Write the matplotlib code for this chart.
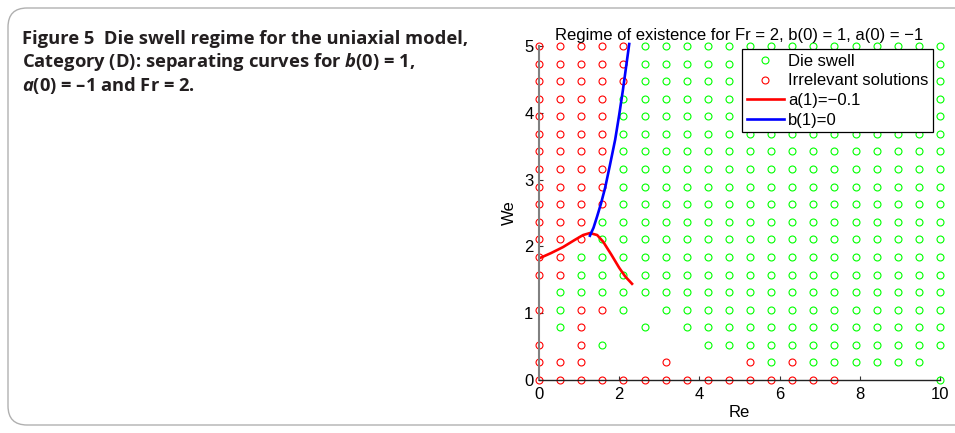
"""Die swell regime map for the uniaxial model (Fr = 2, b(0) = 1, a(0) = -1)."""

import matplotlib

matplotlib.use("Agg")
import matplotlib.pyplot as plt
from matplotlib.patches import FancyBboxPatch

# grid of Reynolds / Weissenberg numbers that were sampled
RE_GRID = [0.0, 0.526, 1.053, 1.579, 2.105, 2.632, 3.158, 3.684, 4.211, 4.737,
           5.263, 5.789, 6.316, 6.842, 7.368, 7.895, 8.421, 8.947, 9.474, 10.0]
WE_GRID = [5.0, 4.737, 4.474, 4.211, 3.947, 3.684, 3.421, 3.158, 2.895, 2.632,
           2.368, 2.105, 1.842, 1.579, 1.316, 1.053, 0.789, 0.526, 0.263, 0.0]

# one row per We value (top row = We 5): g = die swell, r = irrelevant, . = none
REGIME = [
    "rrrrrggggggggggggggg",
    "rrrrrggggggggggggggg",
    "rrrrrggggggggggggggg",
    "rrrrgggggggggggggggg",
    "rrrrgggggggggggggggg",
    "rrrrgggggggggggggggg",
    "rrrrgggggggggggggggg",
    "rrrrgggggggggggggggg",
    "rrrrgggggggggggggggg",
    "rrrrgggggggggggggggg",
    "rrrggggggggggggggggg",
    "rrrggggggggggggggggg",
    "rrgggggggggggggggggg",
    "rrgggggggggggggggggg",
    ".ggggggggggggggggggg",
    "rgrrg.gggggggggggggg",
    ".gr..g.ggggggggggggg",
    "r.rg....gggggggggggg",
    "rrr...r...rgrgggggg.",
    "rrrrrrrrrrrrrrr....g",
]

# separating curve a(1) = -0.1
A1_RE = [0.0, 0.3, 0.6, 0.9, 1.1, 1.27, 1.45, 1.6, 1.8, 2.0, 2.15, 2.32]
A1_WE = [1.82, 1.90, 1.99, 2.10, 2.17, 2.20, 2.17, 2.07, 1.88, 1.68, 1.55, 1.44]

# separating curve b(1) = 0
B1_RE = [1.27, 1.36, 1.45, 1.55, 1.65, 1.77, 1.90, 2.0, 2.09, 2.17, 2.25]
B1_WE = [2.16, 2.28, 2.45, 2.65, 2.88, 3.22, 3.60, 3.97, 4.33, 4.68, 5.03]

CAPTION = [
    "Figure 5  Die swell regime for the uniaxial model,",
    r"Category (D): separating curves for $\mathbfit{b}$(0) = 1,",
    r"$\mathbfit{a}$(0) = –1 and Fr = 2.",
]

plt.rcParams["font.family"] = ["Liberation Sans", "DejaVu Sans"]
plt.rcParams["mathtext.fontset"] = "custom"
plt.rcParams["mathtext.bfit"] = "Open Sans:italic:bold"

W, H = 955, 433
fig = plt.figure(figsize=(W / 100, H / 100), dpi=100)

# caption frame and text
frame = FancyBboxPatch((8 / W, 8 / H), 980 / W, 417 / H, transform=fig.transFigure,
                       boxstyle="round,pad=0,rounding_size=0.02", facecolor="none",
                       edgecolor="#b0b0b0", linewidth=1.0, mutation_aspect=W / H)
fig.patches.append(frame)

fig.text(22 / W, 1 - 30 / H, "\n".join(CAPTION), fontfamily=["Open Sans", "DejaVu Sans"],
         fontweight="bold", fontsize=13.25, color="#231f20", va="top", ha="left",
         linespacing=1.17)

ax = fig.add_axes([539 / W, 53 / H, 401 / W, 334 / H])

colors = {"g": "#00ff00", "r": "#ff0000"}
for code, label in (("g", "Die swell"), ("r", "Irrelevant solutions")):
    xs, ys = [], []
    for row, we in zip(REGIME, WE_GRID):
        for ch, re in zip(row, RE_GRID):
            if ch == code:
                xs.append(re)
                ys.append(we)
    ax.plot(xs, ys, linestyle="none", marker="o", markersize=5.0, markerfacecolor="none",
            markeredgecolor=colors[code], markeredgewidth=0.8, label=label, clip_on=False)

ax.plot(A1_RE, A1_WE, color="#ff0000", linewidth=1.9, label="a(1)=−0.1")
ax.plot(B1_RE, B1_WE, color="#0000ff", linewidth=1.9, label="b(1)=0", clip_on=False)

ax.set_xlim(0, 10)
ax.set_ylim(0, 5)
ax.set_xticks([0, 2, 4, 6, 8, 10])
ax.set_yticks([0, 1, 2, 3, 4, 5])
ax.tick_params(direction="in", length=3, width=0.8, labelsize=12, color="#333333")
ax.tick_params(axis="x", pad=5)
ax.tick_params(axis="y", pad=4)
ax.spines["top"].set_visible(False)
ax.spines["right"].set_visible(False)
ax.spines["left"].set_color("#808080")
ax.spines["left"].set_linewidth(1.5)
ax.spines["bottom"].set_color("#222222")
ax.spines["bottom"].set_linewidth(1.0)
ax.set_xlabel("Re", fontsize=12, labelpad=2)
ax.set_ylabel("We", fontsize=12, labelpad=5)
ax.set_title("Regime of existence for Fr = 2, b(0) = 1, a(0) = −1", fontsize=12, pad=4)

leg = ax.legend(loc="upper right", bbox_to_anchor=(0.9825, 0.991), borderaxespad=0,
                fontsize=12, fancybox=False, framealpha=1, edgecolor="black",
                handlelength=2.2, handletextpad=0.25, labelspacing=0.28, borderpad=0.28)
leg.get_frame().set_linewidth(0.9)
leg.set_zorder(5)

fig.savefig("out.png", dpi=100)
